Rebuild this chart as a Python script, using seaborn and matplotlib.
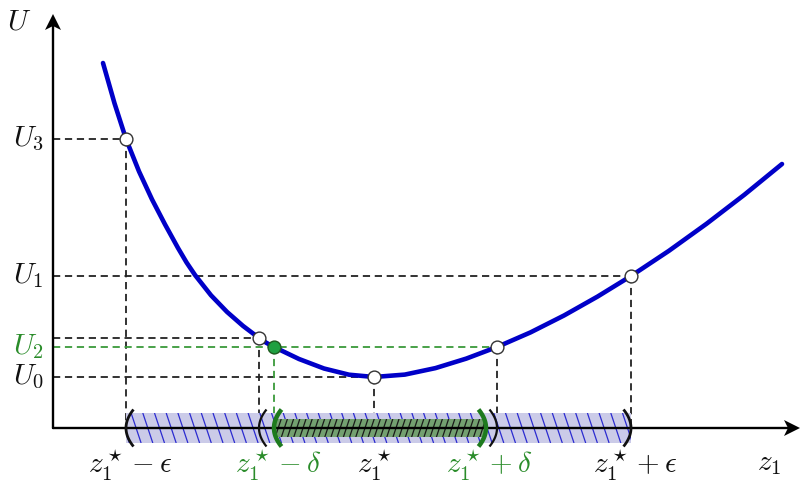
import matplotlib
matplotlib.use("Agg")
import matplotlib.pyplot as plt
from matplotlib.patches import Rectangle
from matplotlib.collections import LineCollection
import numpy as np
import pandas as pd
import seaborn as sns

# Potential U along the coordinate z1 (sampled points of the curve)
curve_z = [0.500, 0.615, 0.730, 0.860, 0.990, 1.120, 1.250, 1.335, 1.420,
           1.580, 1.740, 1.900, 2.060, 2.135, 2.210, 2.460, 2.710, 2.960,
           3.210, 3.518, 3.825, 4.133, 4.440, 4.775, 5.110, 5.445, 5.780,
           6.158, 6.535, 6.913, 7.290]
curve_U = [3.650, 3.247, 2.890, 2.566, 2.286, 2.036, 1.800, 1.656, 1.530,
           1.327, 1.161, 1.021, 0.900, 0.851, 0.810, 0.690, 0.595, 0.533,
           0.510, 0.534, 0.599, 0.694, 0.810, 0.956, 1.125, 1.314, 1.520,
           1.771, 2.042, 2.332, 2.640]

# Marked states on the curve
state_z = [0.73, 2.06, 3.21, 4.44, 5.78]
state_U = [2.89, 0.90, 0.51, 0.81, 1.52]
green_z = [2.21]
green_U = [0.81]

# Energy levels on the vertical axis
level_labels = [r"$U_3$", r"$U_1$", r"$U_2$", r"$U_0$"]
level_values = [2.89, 1.52, 0.81, 0.51]
level_colors = ["#111111", "#111111", "#2a8c2a", "#111111"]

# Neighbourhoods on the z1 axis
eps_interval = (0.73, 5.78)
delta_interval = (2.21, 4.33)
inner_black = (2.06, 4.44)

# Tick labels on the z1 axis
tick_pos = [0.77, 2.25, 3.21, 4.36, 5.82]
tick_labels = [r"$z_1^\star-\epsilon$", r"$z_1^\star-\delta$", r"$z_1^\star$",
               r"$z_1^\star+\delta$", r"$z_1^\star+\epsilon$"]
tick_colors = ["#111111", "#2a8c2a", "#111111", "#2a8c2a", "#111111"]

sns.set_theme(style="white")
plt.rcParams["mathtext.fontset"] = "cm"

BLUE = "#0000c8"
GREEN = "#2a8c2a"
DARK_GREEN = "#1e7a1e"
DASH = (0, (4.0, 2.6))
FS = 21

fig = plt.figure(figsize=(8, 4.91), dpi=100)
ax = fig.add_axes([0, 0, 1, 1])

# Dashed guide lines from each state to both axes
guides = [(0.73, 2.89), (2.06, 0.90), (3.21, 0.51), (5.78, 1.52)]
for gz, gu in guides:
    ax.plot([0, gz], [gu, gu], color="#222222", lw=1.3, ls=DASH, zorder=1)
    ax.plot([gz, gz], [gu, 0], color="#222222", lw=1.3, ls=DASH, zorder=1)
ax.plot([4.44, 4.44], [0.81, 0], color="#222222", lw=1.3, ls=DASH, zorder=1)
ax.plot([0, 4.44], [0.81, 0.81], color="#3a9a3a", lw=1.3, ls=DASH, zorder=1.5)
ax.plot([green_z[0]] * 2, [green_U[0], 0], color="#3a9a3a", lw=1.3, ls=DASH, zorder=1.5)


def hatched_band(x0, x1, half_h, face, line_color, spacing, slant, lw, z):
    rect = Rectangle((x0, -half_h), x1 - x0, 2 * half_h, facecolor=face,
                     edgecolor="none", zorder=z)
    ax.add_patch(rect)
    starts = np.arange(x0 - 0.3, x1 + 0.3, spacing)
    segs = [[(s, half_h), (s + slant, -half_h)] for s in starts]
    lc = LineCollection(segs, colors=line_color, linewidths=lw, zorder=z + 0.1)
    ax.add_collection(lc)
    lc.set_clip_path(rect)


hatched_band(eps_interval[0], eps_interval[1], 0.15, "#cbcbe8", "#2b2bd0",
             0.117, 0.10, 0.9, 2)
hatched_band(delta_interval[0], delta_interval[1], 0.09, "#73a070", "#1a1a1a",
             0.062, -0.06, 0.9, 2.5)

# Axes with arrow heads
ax.plot([0, 7.38], [0, 0], color="black", lw=1.7, zorder=4)
ax.plot([0, 0], [0, 4.05], color="black", lw=1.7, zorder=4)
ax.fill([7.47, 7.31, 7.35, 7.31], [0, 0.08, 0, -0.08], color="black", zorder=4, lw=0)
ax.fill([0, 0.08, 0, -0.08], [4.14, 3.98, 4.02, 3.98], color="black", zorder=4, lw=0)


def bracket(x, side, color, lw, half_h=0.185, bulge=0.075):
    t = np.linspace(-1, 1, 40)
    ax.plot(x + side * bulge * t ** 2, half_h * t, color=color, lw=lw,
            solid_capstyle="butt", zorder=5)


bracket(eps_interval[0], 1, "#111111", 2.0)
bracket(eps_interval[1], -1, "#111111", 2.0)
bracket(inner_black[0], 1, "#111111", 1.6)
bracket(inner_black[1], -1, "#111111", 1.6)
bracket(delta_interval[0], 1, DARK_GREEN, 3.2)
bracket(delta_interval[1], -1, DARK_GREEN, 3.2)

# The potential curve
curve = pd.DataFrame({"z1": curve_z, "U": curve_U})
sns.lineplot(data=curve, x="z1", y="U", color=BLUE, lw=3.3, sort=False,
             ax=ax, zorder=6)

states = pd.DataFrame({"z1": state_z, "U": state_U})
sns.scatterplot(data=states, x="z1", y="U", s=85, color="white",
                edgecolor="#333333", linewidth=1.0, ax=ax, zorder=7)
sns.scatterplot(x=green_z, y=green_U, s=85, color="#1fa040",
                edgecolor="#1e5a1e", linewidth=1.0, ax=ax, zorder=7)
ax.set_xlim(-0.53, 7.47)
ax.set_ylim(-0.63, 4.28)
ax.axis("off")

# Texts
for lab, val, col in zip(level_labels, level_values, level_colors):
    ax.text(-0.09, val, lab, ha="right", va="center", fontsize=FS, color=col)
ax.text(-0.34, 4.07, r"$U$", ha="center", va="center", fontsize=FS, color="#111111")
for pos, lab, col in zip(tick_pos, tick_labels, tick_colors):
    ax.text(pos, -0.37, lab, ha="center", va="center", fontsize=FS, color=col)
ax.text(7.16, -0.35, r"$z_1$", ha="center", va="center", fontsize=FS, color="#111111")

fig.savefig("out.png", dpi=100)
